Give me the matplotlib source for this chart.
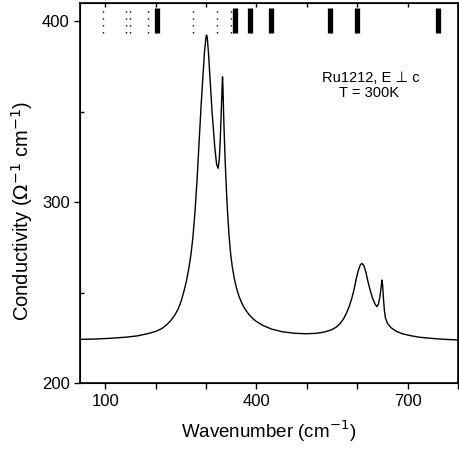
import matplotlib
matplotlib.use("Agg")
import matplotlib.pyplot as plt
from matplotlib.ticker import MultipleLocator, FixedLocator

plt.rcParams['font.family'] = ['Liberation Sans', 'DejaVu Sans']

# Spectrum
wavenumber = [50, 80, 110, 140, 163, 185, 200, 212, 222, 230, 238, 245, 251, 256,
              261, 266, 270, 274, 278, 282, 286, 290, 294, 297, 299.5, 301, 302.5,
              305, 307.6, 312, 317.5, 321, 324, 326.5, 328.5, 330.5, 332, 332.8,
              333.8, 335, 336.5, 338, 340, 342, 344, 346, 349, 352, 356, 360, 365,
              370, 375, 380, 386, 393, 400, 413, 430, 452, 475, 500, 520, 535, 548,
              558, 566, 573, 579, 584, 589, 594, 598, 602, 606, 609.5, 613, 617, 621,
              625, 630, 635, 639, 642, 645, 647.5, 649, 650.5, 652, 654, 656, 660,
              667, 678, 690, 705, 723, 750, 775, 800]
conductivity = [224.1, 224.3, 224.7, 225.3, 226.0, 227.3, 228.5, 230.0, 232.2, 234.5,
                237.5, 241.0, 245.5, 250.5, 256.0, 263.5, 270.7, 280.5, 294.0, 311.0,
                331.5, 352.0, 370.0, 383.0, 390.0, 392.3, 391.0, 382.0, 370.0, 350.0,
                330.0, 321.0, 318.6, 324.0, 336.0, 352.0, 364.0, 369.2, 362.0, 348.0,
                335.0, 323.0, 310.0, 298.0, 289.0, 280.5, 271.0, 264.5, 258.0, 253.0,
                248.3, 244.8, 242.0, 239.8, 237.6, 235.6, 234.0, 231.8, 229.8, 228.3,
                227.5, 227.2, 227.5, 228.2, 229.3, 230.8, 232.8, 235.5, 238.8, 242.2,
                246.5, 252.0, 257.5, 262.0, 265.2, 266.1, 265.0, 261.5, 256.5, 252.0,
                247.3, 243.8, 242.2, 243.5, 247.5, 253.0, 256.9, 254.0, 247.0, 240.0,
                236.0, 233.0, 230.6, 228.5, 227.2, 226.2, 225.3, 224.6, 224.1, 223.8]

# Mode markers at the top
strong_modes = [203, 357, 387, 429, 546, 599, 760]
weak_modes = [95, 142, 149, 184, 275, 321, 349]
marker_low, marker_high = 393.5, 407.0

x_labels = [100, 400, 700]
y_labels = [200, 300, 400]

fig = plt.figure(figsize=(4.59, 4.53), dpi=100)
ax = fig.add_axes([80/459, 1-383/453, 378/459, 380/453])

ax.plot(wavenumber, conductivity, color='black', lw=1.0)
ax.vlines(strong_modes, marker_low, marker_high, color='black', lw=3.8)
ax.vlines(weak_modes, marker_low, marker_high, color='black', lw=1.0,
          linestyles=(0, (1, 4)))

ax.set_xlim(50, 800)
ax.set_ylim(200, 410)

ax.xaxis.set_major_locator(FixedLocator(x_labels))
ax.xaxis.set_minor_locator(FixedLocator([200, 300, 500, 600, 800]))
ax.yaxis.set_major_locator(FixedLocator(y_labels))
ax.yaxis.set_minor_locator(FixedLocator([250, 350]))

ax.tick_params(axis='x', which='both', direction='out', length=4, width=1,
               labelsize=12, top=False, pad=4)
ax.tick_params(axis='y', which='major', direction='out', length=4, width=1,
               labelsize=12)
ax.tick_params(axis='y', which='minor', direction='in', length=3, width=1)
for spine in ax.spines.values():
    spine.set_linewidth(1.2)

# top ticks inward
ax2 = ax.twiny()
ax2.set_xlim(ax.get_xlim())
ax2.xaxis.set_major_locator(MultipleLocator(100))
ax2.tick_params(axis='x', direction='in', length=3, width=1, labeltop=False)

ax.set_xlabel('Wavenumber (cm$^{-1}$)', fontsize=13.5, labelpad=7)
ax.set_ylabel('Conductivity ($\\Omega^{-1}$ cm$^{-1}$)', fontsize=14.5, labelpad=9)
ax.yaxis.set_label_coords(-0.12, 0.453)

ax.text(0.77, 0.803, 'Ru1212, E \u22a5 c', transform=ax.transAxes, ha='center',
        va='center', fontsize=10.5)
ax.text(0.765, 0.763, 'T = 300K', transform=ax.transAxes, ha='center',
        va='center', fontsize=10.5)

fig.savefig('out.png', dpi=100)
